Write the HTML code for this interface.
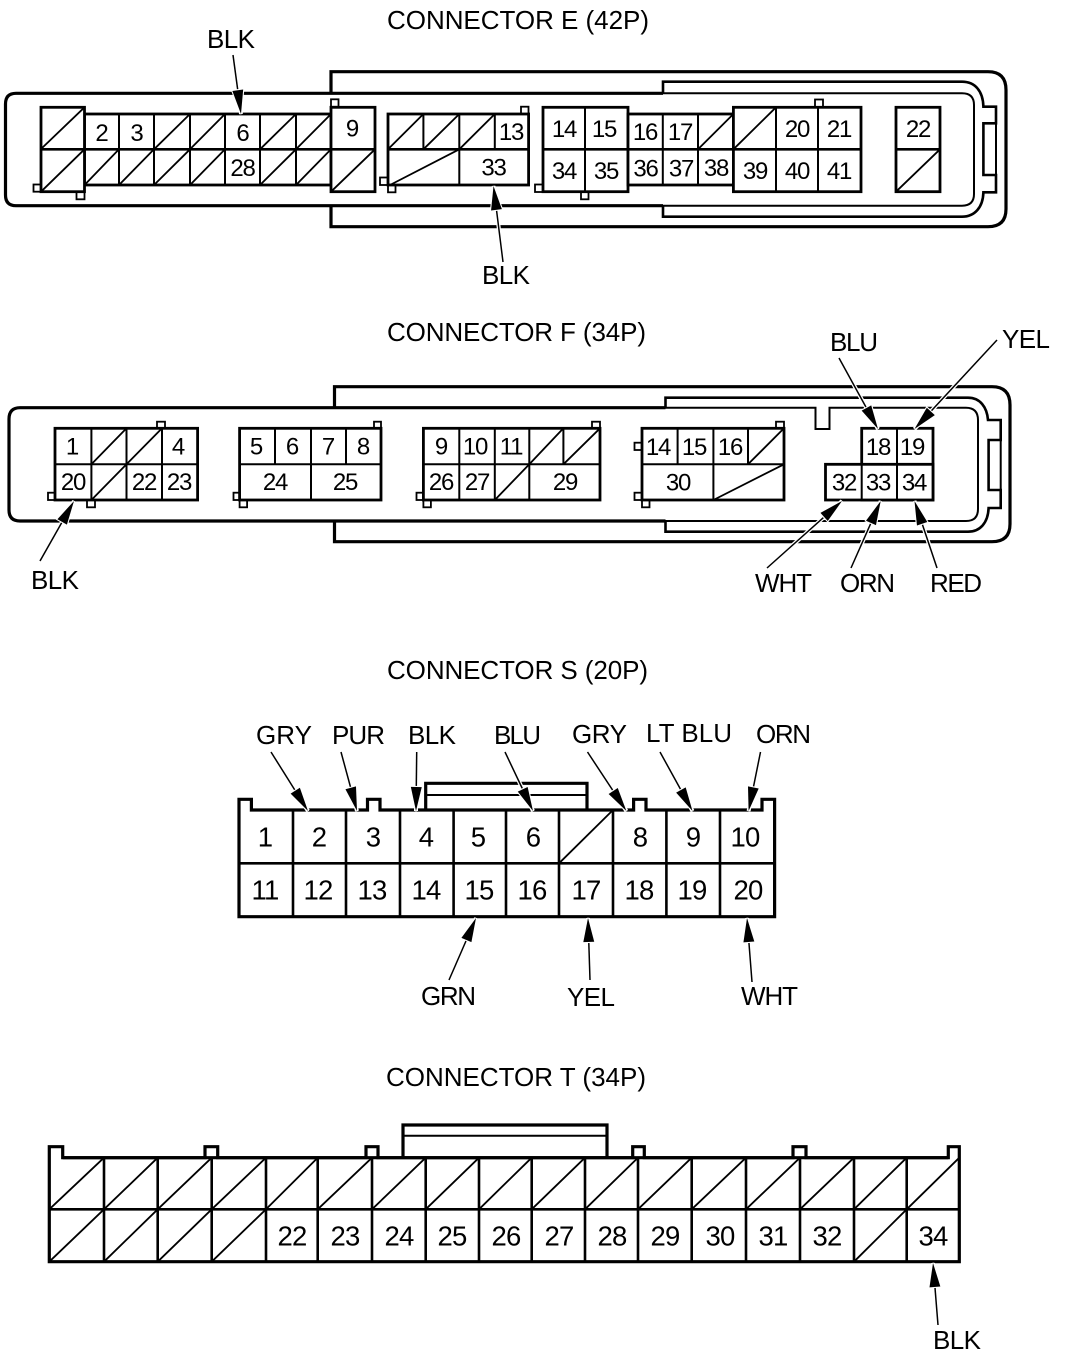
<!DOCTYPE html>
<html><head><meta charset="utf-8"><style>
html,body{margin:0;padding:0;background:#fff}
svg{display:block}
text{font-family:"Liberation Sans",sans-serif;fill:#000;stroke:none}
.t{font-size:26px}
.e{font-size:24px;letter-spacing:-1.2px;text-anchor:middle}
.s{font-size:27.5px;letter-spacing:-.8px;text-anchor:middle}
.th{fill:none;stroke:#000;stroke-width:3.2}
.mid{fill:none;stroke:#000;stroke-width:2.6}
.thin{fill:none;stroke:#000;stroke-width:2}
.box{fill:#fff;stroke:#000;stroke-width:2.8}
.sq{fill:#fff;stroke:#000;stroke-width:1.8}
.sl{fill:none;stroke:#000;stroke-width:1.8}
.ar{stroke:#000;stroke-width:1.5;marker-end:url(#h)}
.hal{stroke:#fff;stroke-width:4;fill:none}
</style></head><body>
<svg width="1072" height="1360" viewBox="0 0 1072 1360" xmlns="http://www.w3.org/2000/svg">
<defs><marker id="h" markerUnits="userSpaceOnUse" markerWidth="24" markerHeight="14" viewBox="0 0 22 10" refX="22" refY="5" orient="auto" overflow="visible"><path d="M0,0 L22,5 L0,10 z" fill="#000" stroke="#fff" stroke-width="2" paint-order="stroke"/></marker></defs>
<rect width="1072" height="1360" fill="#fff"/>

<!-- CONNECTOR E -->
<text class="t" x="387" y="29" textLength="262">CONNECTOR E (42P)</text>
<path class="th" d="M331 93 V71.7 H988 Q1006 71.7 1006 90 V209 Q1006 226.7 988 226.7 H331 V205"/>
<path class="mid" d="M663 93 V81.7 H962 C975 81.7 983 91 983.4 106.7 H996 V123.3 H983.4 V175 H996 V192.3 H983.4 C983 207 975 216.7 962 216.7 H663 V205"/>
<path class="thin" d="M996 123.3 V175"/>
<path class="th" d="M663 93.3 H16 Q5.5 93.3 5.5 104 V195 Q5.5 205.7 16 205.7 H663"/>
<path class="thin" d="M663 93.3 H962 Q974 93.3 974 105 V194 Q974 205.7 962 205.7 H663"/>
<g>
<rect class="sq" x="33.5" y="184.5" width="7.5" height="7.2"/><rect class="sq" x="76.5" y="191.7" width="8" height="7.6"/><rect class="sq" x="331" y="99.3" width="7.5" height="7.5"/>
<rect class="sq" x="380" y="177.5" width="8" height="7.5"/><rect class="sq" x="388" y="185" width="7.5" height="7.3"/><rect class="sq" x="521" y="106.7" width="7.5" height="7.3"/>
<rect class="sq" x="535" y="184.5" width="8" height="7.5"/><rect class="sq" x="581" y="191.7" width="7.5" height="7.6"/><rect class="sq" x="815" y="99.5" width="8" height="7.5"/>
<rect class="box" x="84.5" y="114" width="246.5" height="71"/>
<path class="thin" d="M119 114V185M154 114V185M190 114V185M225 114V185M260 114V185M296 114V185"/>
<path class="mid" d="M84.5 149.3H331"/>
<rect class="box" x="41" y="107.3" width="43.5" height="84.4"/><path class="mid" d="M41 149.3H84.5"/>
<rect class="box" x="331" y="107.3" width="44" height="84.4"/><path class="mid" d="M331 149.3H375"/>
<rect class="box" x="388" y="114" width="140.6" height="71"/>
<path class="thin" d="M423.4 114V149.3M459.3 114V185M494.8 114V149.3"/><path class="mid" d="M388 149.3H528.6"/>
<rect class="box" x="543" y="107.3" width="85" height="84.4"/><path class="thin" d="M585 107.3V191.7"/><path class="mid" d="M543 149.3H628"/>
<rect class="box" x="628" y="114" width="105.4" height="71"/><path class="thin" d="M662.8 114V185M698 114V185"/><path class="mid" d="M628 149.3H733"/>
<rect class="box" x="733.4" y="107.3" width="127.6" height="84.4"/><path class="thin" d="M776 107.3V191.7M818 107.3V191.7"/><path class="mid" d="M733.4 149.3H861"/>
<rect class="box" x="896" y="107.3" width="44" height="84.4"/><path class="mid" d="M896 149.3H940"/>
<path class="sl" d="M41 149L84.5 107.3M41 191.7L84.5 149.3M84.5 185L119 149.3M119 185L154 149.3M154 185L190 149.3M190 185L225 149.3M154 149.3L190 114M190 149.3L225 114M260 149.3L296 114M296 149.3L331 114M260 185L296 149.3M296 185L331 149.3M331 191.7L375 149.3M388 149.3L423.4 114M423.4 149.3L459.3 114M459.3 149.3L494.8 114M390 185L459.3 149.3M698 149.3L733.4 114M733.4 149.3L776 107.3M896 191.7L940 149.3"/>
</g>
<g>
<text class="e" x="101.5" y="141">2</text><text class="e" x="136.5" y="141">3</text><text class="e" x="242.5" y="141">6</text><text class="e" x="242.5" y="176">28</text><text class="e" x="352" y="136.5">9</text>
<text class="e" x="511" y="140">13</text><text class="e" x="493.5" y="175.7">33</text>
<text class="e" x="564" y="137">14</text><text class="e" x="604" y="137">15</text><text class="e" x="645" y="140">16</text><text class="e" x="680" y="140">17</text>
<text class="e" x="564" y="179">34</text><text class="e" x="606" y="179">35</text><text class="e" x="645.5" y="176.5">36</text><text class="e" x="681" y="176.5">37</text><text class="e" x="716" y="176">38</text>
<text class="e" x="755" y="179">39</text><text class="e" x="797" y="137">20</text><text class="e" x="839" y="137">21</text><text class="e" x="797" y="179">40</text><text class="e" x="839" y="179">41</text><text class="e" x="918" y="137">22</text>
</g>
<path class="hal" d="M233 55L241 114M503 262L493.5 186"/>
<line class="ar" x1="233" y1="55" x2="241" y2="114"/>
<line class="ar" x1="503" y1="262" x2="493.5" y2="186"/>
<text class="t" x="207" y="48" textLength="48">BLK</text>
<text class="t" x="482" y="284" textLength="48">BLK</text>

<!-- CONNECTOR F -->
<text class="t" x="387" y="341" textLength="259">CONNECTOR F (34P)</text>
<path class="th" d="M334.5 407 V386.7 H992 Q1010 386.7 1010 405 V524 Q1010 541.7 992 541.7 H334.5 V521"/>
<path class="mid" d="M665.5 407 V397.7 H968 C980 397.7 987 407 988 420 H1000.7 V440 H988.6 V490 H1000.7 V508 H988.6 C988 523 980 531.7 968 531.7 H665.5 V521"/>
<path class="thin" d="M1000.7 440 V490"/>
<path class="th" d="M665.5 407.7 H20 Q9 407.7 9 419 V510 Q9 521 20 521 H665.5"/>
<path class="thin" d="M665.5 407.7 H815.5 V429 H829.5 V407.7 H966 Q978 407.7 978 420 V509 Q978 521 966 521 H665.5"/>
<g>
<rect class="sq" x="157" y="421.7" width="8" height="6.6"/><rect class="sq" x="48" y="492.7" width="7" height="7.3"/><rect class="sq" x="87" y="500" width="8" height="7.3"/>
<rect class="sq" x="374" y="421.7" width="7" height="6.6"/><rect class="sq" x="233.5" y="492.7" width="6" height="7.3"/><rect class="sq" x="239.6" y="500" width="7.5" height="7.3"/>
<rect class="sq" x="592" y="421.7" width="8" height="6.6"/><rect class="sq" x="416.5" y="492.7" width="7" height="7.3"/><rect class="sq" x="423.4" y="500" width="7.5" height="7.3"/>
<rect class="sq" x="776" y="421.7" width="8" height="6.6"/><rect class="sq" x="634.5" y="442.7" width="7.5" height="7.3"/><rect class="sq" x="634.5" y="492.7" width="7.5" height="7.3"/><rect class="sq" x="642" y="500" width="7.5" height="7.3"/>
<rect class="box" x="55" y="428.3" width="142.6" height="71.7"/><path class="thin" d="M91.4 428.3V500M126.5 428.3V500M162 428.3V500M55 464.3H197.6"/>
<rect class="box" x="239.6" y="428.3" width="141.4" height="71.7"/><path class="thin" d="M275 428.3V464.3M311 428.3V500M346 428.3V464.3M239.6 464.3H381"/>
<rect class="box" x="423.4" y="428.3" width="176.6" height="71.7"/><path class="thin" d="M459.3 428.3V500M494.8 428.3V500M529.3 428.3V500M563.4 428.3V464.3M423.4 464.3H600"/>
<rect class="box" x="642" y="428.3" width="142" height="71.7"/><path class="thin" d="M677.6 428.3V464.3M713.4 428.3V500M748 428.3V464.3M642 464.3H784"/>
<rect class="box" x="861.7" y="428.3" width="71.3" height="71.7"/><rect class="box" x="825.5" y="464.3" width="107.5" height="35.7"/><path class="thin" d="M897 428.3V500M861.7 464.3V500"/>
<path class="sl" d="M91.4 464.3L126.5 428.3M126.5 464.3L162 428.3M91.4 500L126.5 464.3M494.8 500L529.3 464.3M529.3 464.3L563.4 428.3M563.4 464.3L600 428.3M748 464.3L784 428.3M713.4 500L784 464.3"/>
</g>
<g>
<text class="e" x="72" y="454.5">1</text><text class="e" x="178" y="454.5">4</text><text class="e" x="73" y="490">20</text><text class="e" x="144" y="490">22</text><text class="e" x="179" y="490">23</text>
<text class="e" x="256" y="454.5">5</text><text class="e" x="292" y="454.5">6</text><text class="e" x="328" y="454.5">7</text><text class="e" x="363" y="454.5">8</text><text class="e" x="275" y="490">24</text><text class="e" x="345" y="490">25</text>
<text class="e" x="441" y="454.5">9</text><text class="e" x="475" y="454.5">10</text><text class="e" x="511" y="454.5">11</text><text class="e" x="441" y="490">26</text><text class="e" x="477" y="490">27</text><text class="e" x="565" y="490">29</text>
<text class="e" x="658" y="455">14</text><text class="e" x="694" y="455">15</text><text class="e" x="730" y="455">16</text><text class="e" x="678" y="490.5">30</text>
<text class="e" x="878" y="455">18</text><text class="e" x="912" y="455">19</text><text class="e" x="844" y="490.5">32</text><text class="e" x="878" y="490.5">33</text><text class="e" x="914" y="490.5">34</text>
</g>
<path class="hal" d="M40 561L74 501M839 358L878 429M997 340L914.5 429M767 568L842 501M851 568L880.7 501M937 568L914.5 501"/>
<line class="ar" x1="40" y1="561" x2="74" y2="501"/>
<line class="ar" x1="839" y1="358" x2="878" y2="429"/>
<line class="ar" x1="997" y1="340" x2="914.5" y2="429"/>
<line class="ar" x1="767" y1="568" x2="842" y2="501"/>
<line class="ar" x1="851" y1="568" x2="880.7" y2="501"/>
<line class="ar" x1="937" y1="568" x2="914.5" y2="501"/>
<text class="t" x="31" y="589" textLength="48">BLK</text>
<text class="t" x="830" y="351" textLength="48">BLU</text>
<text class="t" x="1002" y="348" textLength="48">YEL</text>
<text class="t" x="755" y="592" textLength="57">WHT</text>
<text class="t" x="840" y="592" textLength="55">ORN</text>
<text class="t" x="930" y="592" textLength="52">RED</text>

<!-- CONNECTOR S -->
<text class="t" x="387" y="679" textLength="261">CONNECTOR S (20P)</text>
<path class="th" d="M425.7 810V783.3H587V810"/><path class="thin" d="M425.7 795H587"/>
<path class="th" style="fill:#fff" d="M239 810V799.3H251.4V810H367.5V799.3H380V810H633.6V799.3H646V810H762V799.3H774.6V916.7H239Z"/>
<path class="mid" d="M239 863.3H774.6M293 810V916.7M346 810V916.7M400 810V916.7M453.6 810V916.7M506 810V916.7M559 810V916.7M613 810V916.7M666.4 810V916.7M720 810V916.7"/>
<path class="sl" d="M559 863.3L613 810"/>
<g>
<text class="s" x="265" y="846.7">1</text><text class="s" x="319" y="846.7">2</text><text class="s" x="373" y="846.7">3</text><text class="s" x="426" y="846.7">4</text><text class="s" x="478" y="846.7">5</text><text class="s" x="533" y="846.7">6</text><text class="s" x="640" y="846.7">8</text><text class="s" x="693" y="846.7">9</text><text class="s" x="745" y="846.7">10</text>
<text class="s" x="265" y="899.5">11</text><text class="s" x="318" y="899.5">12</text><text class="s" x="372" y="899.5">13</text><text class="s" x="426" y="899.5">14</text><text class="s" x="479" y="899.5">15</text><text class="s" x="532" y="899.5">16</text><text class="s" x="586" y="899.5">17</text><text class="s" x="639" y="899.5">18</text><text class="s" x="692" y="899.5">19</text><text class="s" x="748" y="899.5">20</text>
</g>
<path class="hal" d="M271 752L308 811M341 752L357 811M416.7 752L416 811M505 752L533 811M587.5 752L626.4 811M660 752L692.5 811M760.5 752L748.6 811M449 980L476 918M590 980L588 918M752 982L747 918"/>
<line class="ar" x1="271" y1="752" x2="308" y2="811"/>
<line class="ar" x1="341" y1="752" x2="357" y2="811"/>
<line class="ar" x1="416.7" y1="752" x2="416" y2="811"/>
<line class="ar" x1="505" y1="752" x2="533" y2="811"/>
<line class="ar" x1="587.5" y1="752" x2="626.4" y2="811"/>
<line class="ar" x1="660" y1="752" x2="692.5" y2="811"/>
<line class="ar" x1="760.5" y1="752" x2="748.6" y2="811"/>
<line class="ar" x1="449" y1="980" x2="476" y2="918"/>
<line class="ar" x1="590" y1="980" x2="588" y2="918"/>
<line class="ar" x1="752" y1="982" x2="747" y2="918"/>
<text class="t" x="256" y="744" textLength="56">GRY</text>
<text class="t" x="332" y="744" textLength="53">PUR</text>
<text class="t" x="408" y="744" textLength="48">BLK</text>
<text class="t" x="494" y="744" textLength="47">BLU</text>
<text class="t" x="572" y="743" textLength="55">GRY</text>
<text class="t" x="646" y="742" textLength="86">LT BLU</text>
<text class="t" x="756" y="743" textLength="55">ORN</text>
<text class="t" x="421" y="1005" textLength="55">GRN</text>
<text class="t" x="567" y="1006" textLength="48">YEL</text>
<text class="t" x="741" y="1005" textLength="57">WHT</text>

<!-- CONNECTOR T -->
<text class="t" x="386" y="1086" textLength="260">CONNECTOR T (34P)</text>
<path class="th" d="M403 1157.7V1125H607V1157.7"/><path class="thin" d="M403 1135.7H607"/>
<path class="th" style="fill:#fff" d="M49.3 1146.7H62.7V1157.7H205V1146.7H217.7V1157.7H366V1146.7H378V1157.7H632.7V1146.7H644.3V1157.7H793V1146.7H806V1157.7H948.3V1146.7H959.3V1261.7H49.3Z"/>
<path class="th" d="M62.7 1157.7H948.3"/>
<path class="mid" d="M49.3 1209.3H959.3M104 1157.7V1261.7M157.7 1157.7V1261.7M211.7 1157.7V1261.7M266 1157.7V1261.7M317.7 1157.7V1261.7M372 1157.7V1261.7M425.7 1157.7V1261.7M479 1157.7V1261.7M531.7 1157.7V1261.7M585 1157.7V1261.7M638 1157.7V1261.7M691.7 1157.7V1261.7M746 1157.7V1261.7M800 1157.7V1261.7M854 1157.7V1261.7M906.7 1157.7V1261.7"/>
<path class="sl" d="M49.3 1209.3L104 1157.7M104 1209.3L157.7 1157.7M157.7 1209.3L211.7 1157.7M211.7 1209.3L266 1157.7M266 1209.3L317.7 1157.7M317.7 1209.3L372 1157.7M372 1209.3L425.7 1157.7M425.7 1209.3L479 1157.7M479 1209.3L531.7 1157.7M531.7 1209.3L585 1157.7M585 1209.3L638 1157.7M638 1209.3L691.7 1157.7M691.7 1209.3L746 1157.7M746 1209.3L800 1157.7M800 1209.3L854 1157.7M854 1209.3L906.7 1157.7M906.7 1209.3L959.3 1157.7M49.3 1261.7L104 1209.3M104 1261.7L157.7 1209.3M157.7 1261.7L211.7 1209.3M211.7 1261.7L266 1209.3M854 1261.7L906.7 1209.3"/>
<g>
<text class="s" x="292" y="1245.5">22</text><text class="s" x="345" y="1245.5">23</text><text class="s" x="399" y="1245.5">24</text><text class="s" x="452" y="1245.5">25</text><text class="s" x="506" y="1245.5">26</text><text class="s" x="559" y="1245.5">27</text><text class="s" x="612" y="1245.5">28</text><text class="s" x="665" y="1245.5">29</text><text class="s" x="720" y="1245.5">30</text><text class="s" x="773" y="1245.5">31</text><text class="s" x="827" y="1245.5">32</text><text class="s" x="933" y="1245.5">34</text>
</g>
<path class="hal" d="M938 1325L933 1263"/>
<line class="ar" x1="938" y1="1325" x2="933" y2="1263"/>
<text class="t" x="933" y="1349" textLength="48">BLK</text>
</svg>
</body></html>
